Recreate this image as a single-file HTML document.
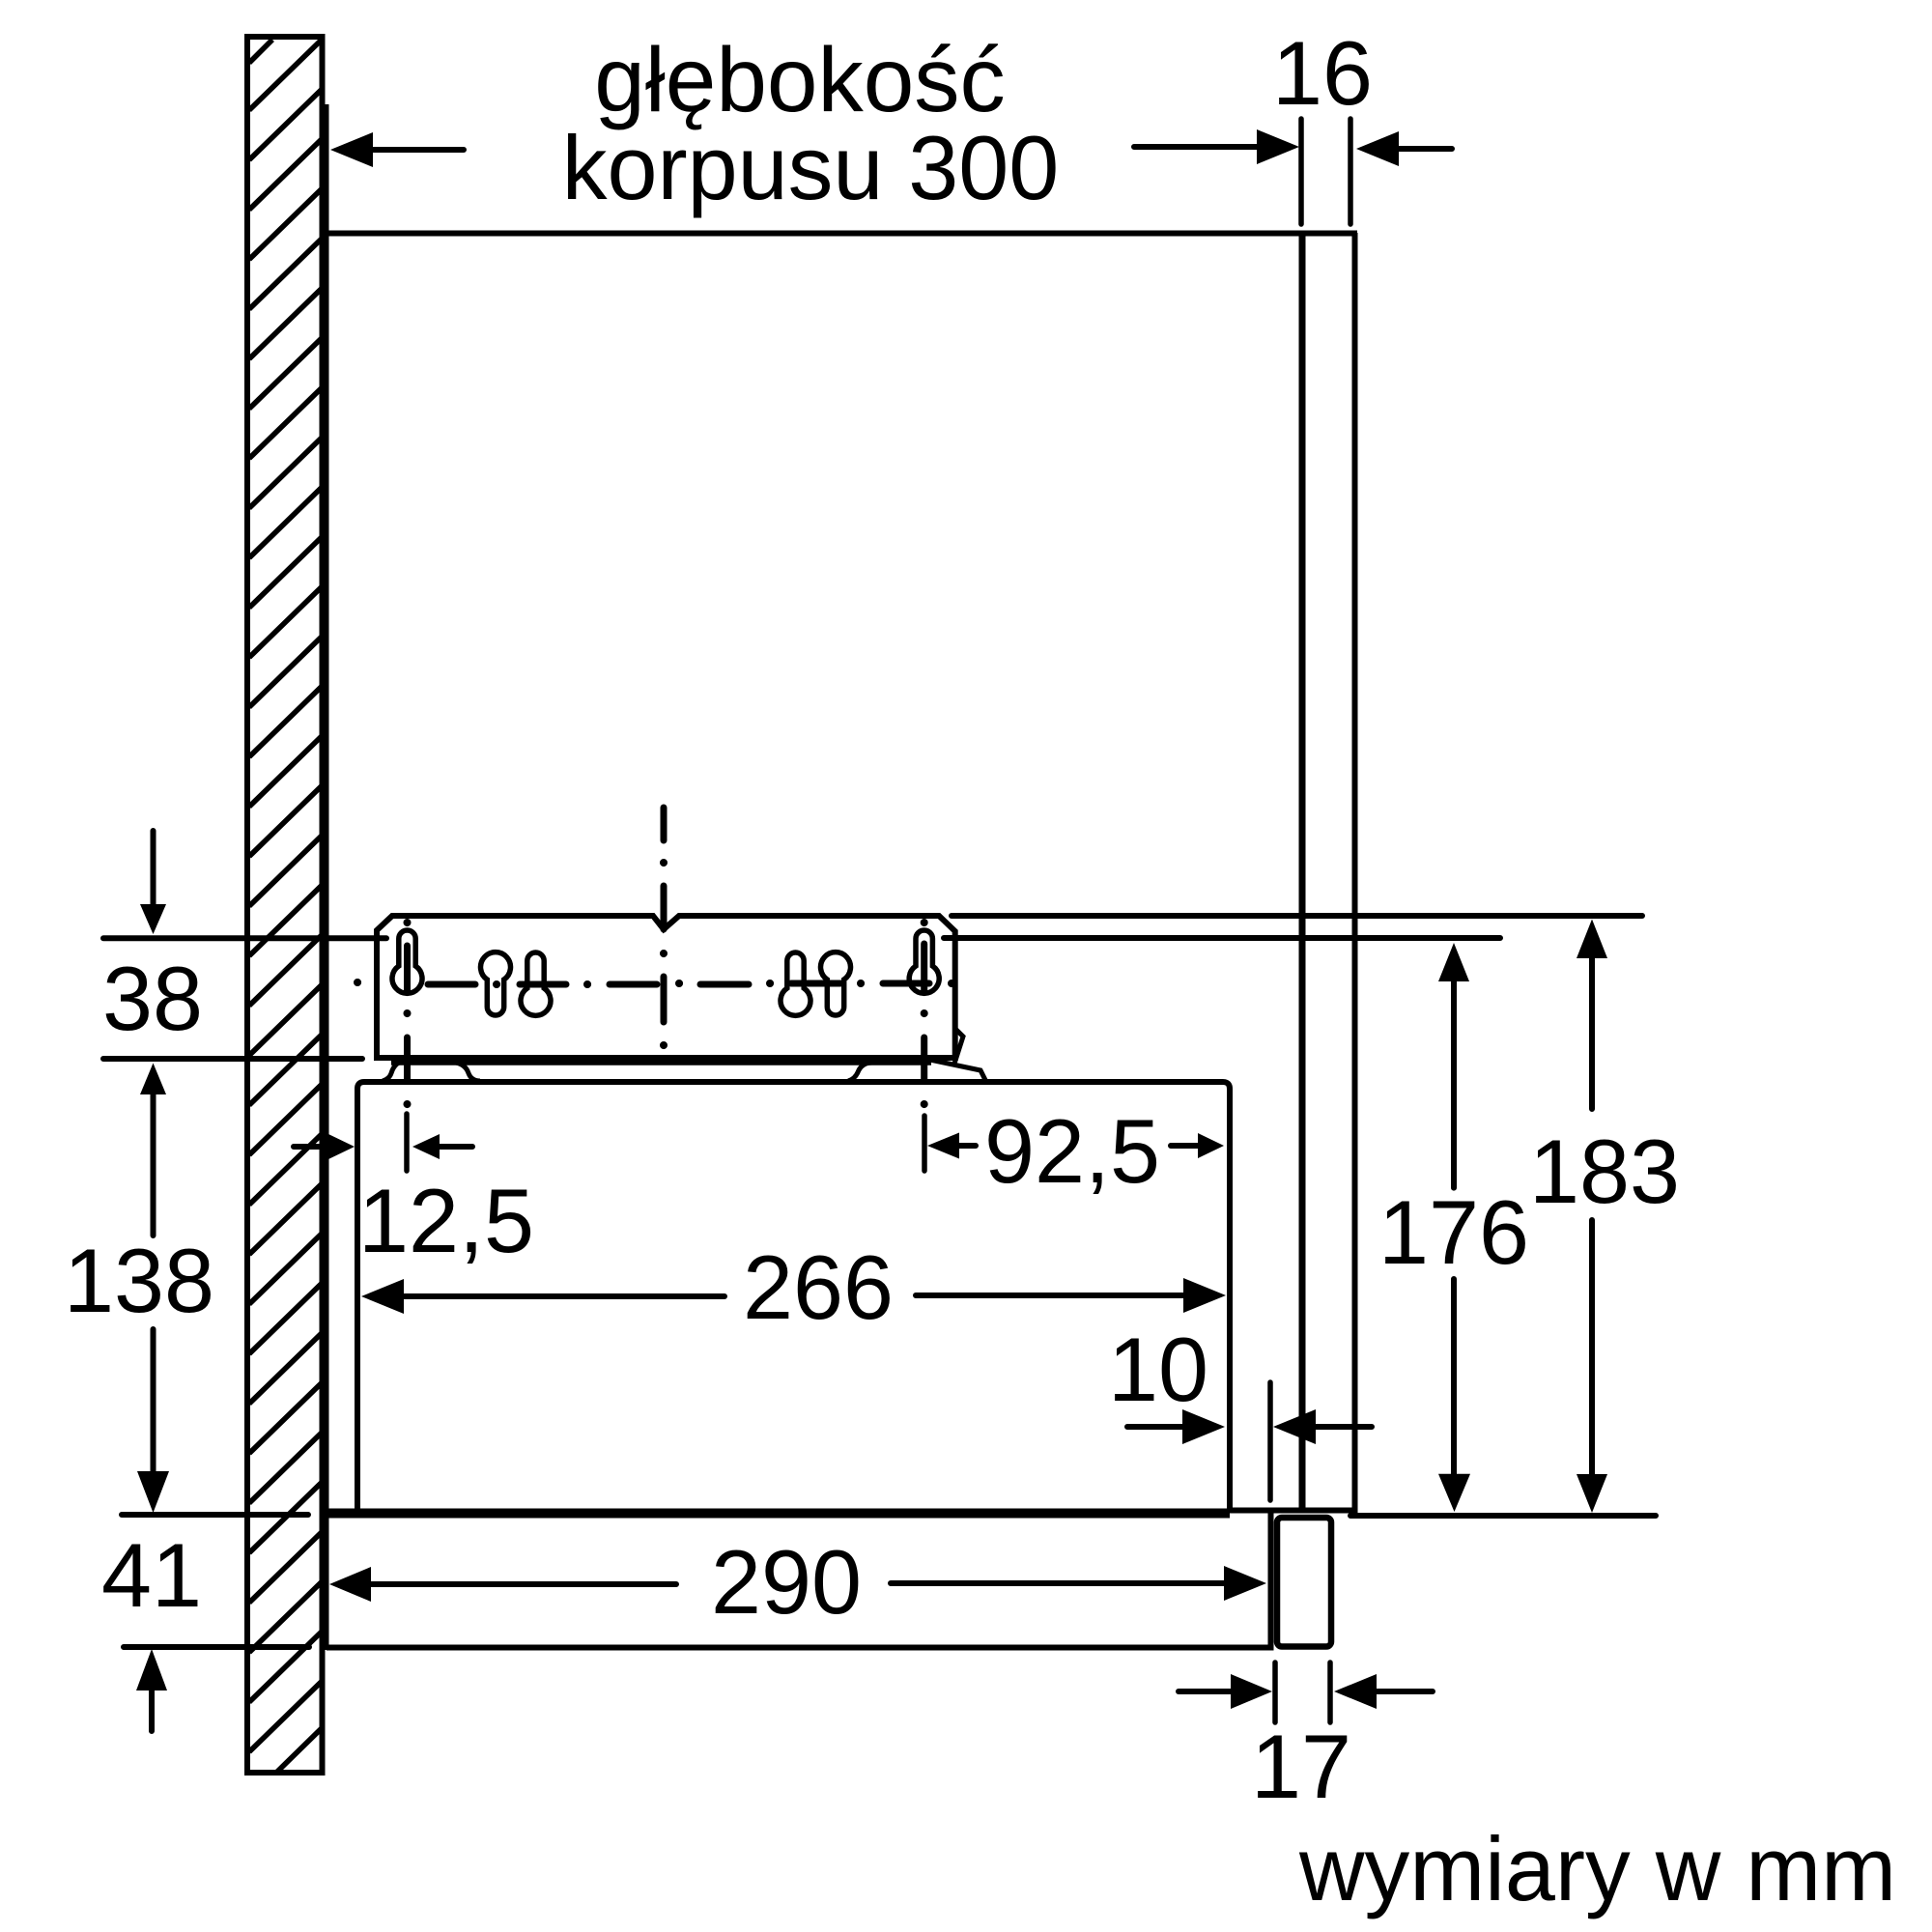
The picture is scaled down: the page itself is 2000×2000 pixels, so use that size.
<!DOCTYPE html>
<html><head><meta charset="utf-8"><style>
html,body{margin:0;padding:0;background:#fff}
svg{display:block}
text{font-family:"Liberation Sans",sans-serif;font-size:93.5px;fill:#000;text-anchor:middle}
</style></head><body>
<svg width="2000" height="2000" viewBox="0 0 2000 2000" xmlns="http://www.w3.org/2000/svg">
<rect width="2000" height="2000" fill="#fff"/>
<defs><path id="k" d="M-8.7,37V8.7A8.7,8.7 0 0 1 8.7,8.7V37A15.5,15.5 0 1 1 -8.7,37Z"/></defs>
<g fill="none" stroke="#000" stroke-width="6" stroke-linecap="butt">
<!-- wall -->
<rect x="256" y="38" width="77.5" height="1797"/>
<g stroke-width="5.5">
<path d="M282,41L258,65M333,41L258,114M333,92.500L258,165.500M333,144L258,217M333,195.500L258,268.500M333,247L258,320M333,298.500L258,371.500M333,350L258,423M333,401.500L258,474.500M333,453L258,526M333,504.500L258,577.500M333,556L258,629M333,607.500L258,680.500M333,659L258,732M333,710.500L258,783.500M333,762L258,835M333,813.500L258,886.500M333,865L258,938M333,916.500L258,989.500M333,968L258,1041M333,1019.500L258,1092.500M333,1071L258,1144M333,1122.500L258,1195.500M333,1174L258,1247M333,1225.500L258,1298.500M333,1277L258,1350M333,1328.500L258,1401.500M333,1380L258,1453M333,1431.500L258,1504.500M333,1483L258,1556M333,1534.500L258,1607.500M333,1586L258,1659M333,1637.500L258,1710.500M333,1689L258,1762M333,1740.500L258,1813.500M333,1789L286,1835"/>
</g>
<path d="M337,108V1708" stroke-width="7"/>
<path d="M335,241.500H1405M1402.500,241V1566"/>
<path d="M1348,241V1566" stroke-width="7"/>
<path d="M1273,1563.500H1405"/>
<path d="M336,1566.500H1273" stroke-width="10"/>
<path d="M1315.500,1564V1705.500H338"/>
<rect x="1322" y="1571" width="56" height="133.500" rx="5" stroke-width="6.500"/>
<!-- inner box -->
<path d="M370,1566V1127Q370,1120 377,1120H1266Q1273,1120 1273,1127V1566"/>
<!-- bracket -->
<path d="M390,1095V963L406,948H676L687,962L703,948H972L988.700,964V1095H390Z"/>
<path d="M405,1098.500H964" stroke-width="8.500"/>
<path d="M396,1119Q403,1117 405,1111Q409,1098 421,1098M472,1100Q482,1102 485,1111Q488,1119 497,1119M878,1119Q885,1117 888,1110Q892,1100 903,1100M958,1096L1015,1108L1021,1120M988,1064L997,1073L988,1101" stroke-width="5"/>
<g stroke-width="5.500">
<use href="#k" transform="translate(421.500,963)"/>
<use href="#k" transform="translate(956.700,963)"/>
<use href="#k" transform="translate(513,1051) scale(1,-1)"/>
<use href="#k" transform="translate(554.500,986)"/>
<use href="#k" transform="translate(823.500,986)"/>
<use href="#k" transform="translate(865,1051) scale(1,-1)"/>
</g>
<!-- centre lines -->
<g stroke-width="7" stroke-linecap="round">
<path d="M687,836V870M687,917V962M687,1011V1058M421.500,979V1026M421.500,1074V1118M956.700,977V1026M956.700,1074V1118M443,1019H492M538,1019H586M631,1019H680M725,1019H775M819,1018H870M914,1018H962"/>
<path d="M687,893V893.100M687,987V987.100M687,1082V1082.100M421.500,955V955.100M421.500,1049V1049.100M421.500,1143V1143.100M956.700,955V955.100M956.700,1049V1049.100M956.700,1143V1143.100M370,1017H370.100M514,1019H514.100M608,1019H608.100M703,1018H703.100M797,1018H797.100M891,1018H891.100M985,1018H985.100" stroke-width="8"/>
</g>
<!-- extension + dimension lines -->
<g stroke-linecap="round">
<path d="M107,971.300H400M977,971H1553M985,948H1700M107,1096H375M126,1568H319M128,1705H320M1398,1569H1714"/>
<path d="M1347,123V232M1398,123V232M421,1153V1212M957,1155V1212M1315,1431V1553M1320,1721V1783M1377,1721V1783" stroke-width="5.500"/>
<path d="M386,155H480M1174,152H1320M1430,154H1503M158.500,860V940M158.500,1130V1279M158.500,1376V1530M157,1745V1792M304,1187H345M455,1187H489M993,1186H1010M1212,1186H1240M418,1342H750M948,1341H1230M384,1640H700M922,1639H1270M1167,1477H1230M1362,1477H1420M1505,1010V1229.600M1505,1324V1530M1648,990V1148M1648,1263V1530M1220,1751H1280M1425,1751H1483"/>
</g>
</g>
<!-- arrowheads -->
<g fill="#000">
<polygon points="342,155 386,137 386,173"/>
<polygon points="1345,152 1301,134 1301,170"/>
<polygon points="1404,154 1448,136 1448,172"/>
<polygon points="158.500,967 145,936 172,936"/>
<polygon points="158.500,1100.500 145,1133 172,1133"/>
<polygon points="158.500,1566 142,1523 175,1523"/>
<polygon points="157,1707 141,1750 173,1750"/>
<polygon points="367,1187 340,1174 340,1200"/>
<polygon points="427,1187 455,1174 455,1200"/>
<polygon points="960,1186 993,1172.500 993,1199.500"/>
<polygon points="1267,1186 1240,1173 1240,1199"/>
<polygon points="374,1342 418,1324 418,1360"/>
<polygon points="1269,1341 1225,1323 1225,1359"/>
<polygon points="341,1640 384,1622 384,1658"/>
<polygon points="1311,1639 1267,1621 1267,1657"/>
<polygon points="1268,1477 1224,1459 1224,1495"/>
<polygon points="1318,1477 1362,1459 1362,1495"/>
<polygon points="1505,976 1489,1016 1521,1016"/>
<polygon points="1505.500,1565 1489,1525.700 1522,1525.700"/>
<polygon points="1648,951.500 1632,992 1664,992"/>
<polygon points="1648,1566 1632,1526 1664,1526"/>
<polygon points="1317,1751 1274,1733 1274,1769"/>
<polygon points="1381,1751 1425,1733 1425,1769"/>
</g>
<!-- text -->
<text x="828" y="115" style="font-size:94.500px">głębokość</text>
<text x="839" y="206">korpusu 300</text>
<text x="1369" y="108">16</text>
<text x="158" y="1066">38</text>
<text x="144" y="1358">138</text>
<text x="157" y="1663">41</text>
<text x="462" y="1296">12,5</text>
<text x="1110" y="1224">92,5</text>
<text x="847" y="1365">266</text>
<text x="1199" y="1450">10</text>
<text x="814" y="1670">290</text>
<text x="1505" y="1308">176</text>
<text x="1661" y="1245">183</text>
<text x="1347" y="1861">17</text>
<text x="1654" y="1967">wymiary w mm</text>
</svg>
</body></html>
